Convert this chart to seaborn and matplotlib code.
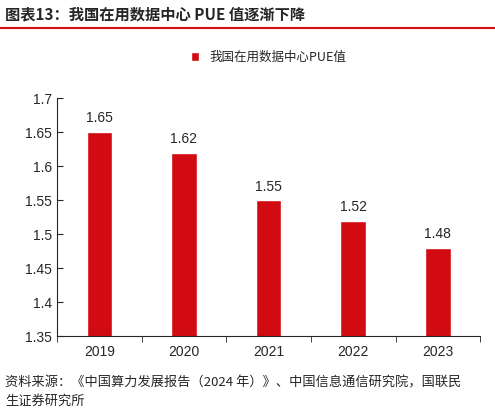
import matplotlib
matplotlib.use("Agg")
import matplotlib.pyplot as plt
import numpy as np
import pandas as pd
import seaborn as sns

years = ["2019", "2020", "2021", "2022", "2023"]
pue = [1.65, 1.62, 1.55, 1.52, 1.48]
y_ticks = [1.35, 1.4, 1.45, 1.5, 1.55, 1.6, 1.65, 1.7]

sns.set_style("ticks")
plt.rcParams["font.family"] = ["Noto Sans CJK SC", "DejaVu Sans"]

red = "#D20A11"
df = pd.DataFrame({"year": years, "pue": pue})

fig = plt.figure(figsize=(4.95, 4.18), dpi=100)
ax = fig.add_axes([0.115, 0.195, 0.855, 0.57])
sns.barplot(data=df, x="year", y="pue", color=red, width=0.3,
            saturation=1, ax=ax, label="我国在用数据中心PUE值")
ax.set_ylim(1.35, 1.7)
ax.set_yticks(y_ticks)
ax.set_yticklabels([f"{v:g}" for v in y_ticks], fontsize=10, family="Liberation Sans")
ax.set_xticklabels(years, fontsize=10, family="Liberation Sans")
ax.set_xlim(-0.5, 4.5)
ax.set_xlabel("")
ax.set_ylabel("")
for i, v in enumerate(pue):
    ax.text(i, v + 0.01, f"{v:.2f}", ha="center", va="bottom",
            fontsize=10, family="Liberation Sans")
# ticks between categories
ax.set_xticks(np.arange(-0.5, 5, 1), minor=True)
ax.tick_params(axis="x", which="major", length=0, pad=6)
ax.tick_params(axis="x", which="minor", length=4, direction="out")
ax.tick_params(axis="y", length=4, direction="in")
sns.despine(ax=ax)
ax.legend(loc="center", bbox_to_anchor=(0.5, 1.17), frameon=False,
          fontsize=9, handlelength=0.7, handleheight=0.7)

fig.text(0.01, 0.965, "图表13：我国在用数据中心 PUE 值逐渐下降", fontsize=11,
         fontweight="bold", va="center")
fig.add_artist(plt.Line2D([0.0, 1.0], [0.932, 0.932], color=red, lw=1.5))
fig.text(0.01, 0.1, "资料来源：《中国算力发展报告（2024 年）》、中国信息通信研究院，国联民\n生证券研究所",
         fontsize=9.5, va="top", linespacing=1.5)
fig.savefig("out.png", dpi=100)
